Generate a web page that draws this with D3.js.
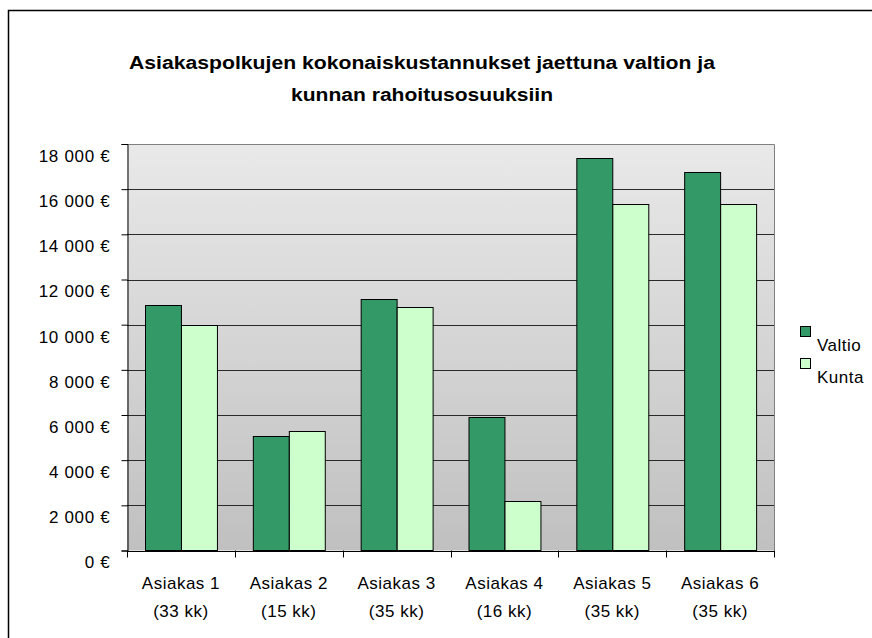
<!DOCTYPE html>
<html>
<head>
<meta charset="utf-8">
<script src="https://cdn.jsdelivr.net/npm/d3@7"></script>
<style>
  body { margin: 0; background: #fff; }
  text { font-family: "Liberation Sans", Arial, sans-serif; fill: #000; }
</style>
</head>
<body>
<div id="chart"></div>
<script>
const categories = ['Asiakas 1', 'Asiakas 2', 'Asiakas 3', 'Asiakas 4', 'Asiakas 5', 'Asiakas 6'];
const subLabels = ['(33 kk)', '(15 kk)', '(35 kk)', '(16 kk)', '(35 kk)', '(35 kk)'];
const valtio = [10850, 5080, 11120, 5930, 17370, 16750];
const kunta = [10000, 5280, 10780, 2190, 15330, 15330];
const seriesNames = ['Valtio', 'Kunta'];
const seriesColors = ['#339966', '#ccffcc'];
const yTicks = [0, 2000, 4000, 6000, 8000, 10000, 12000, 14000, 16000, 18000];
const titleLines = ['Asiakaspolkujen kokonaiskustannukset jaettuna valtion ja', 'kunnan rahoitusosuuksiin'];

const W = 872, H = 638;
const plot = {left: 127, top: 144, right: 774, bottom: 550.5};

const svg = d3.select('#chart').append('svg')
    .attr('width', W)
    .attr('height', H);

// outer chart frame, it runs off the right and bottom edges
svg.append('rect')
    .attr('x', 8.5).attr('y', 10.5)
    .attr('width', W + 20).attr('height', H + 20)
    .attr('fill', '#fff')
    .attr('stroke', '#000')
    .attr('stroke-width', 1.5);

const grad = svg.append('defs').append('linearGradient')
    .attr('id', 'bg').attr('x1', 0).attr('y1', 0).attr('x2', 0).attr('y2', 1);
grad.append('stop').attr('offset', '0%').attr('stop-color', '#e9e9e9');
grad.append('stop').attr('offset', '100%').attr('stop-color', '#c0c0c0');

const x0 = d3.scaleBand()
    .domain(categories)
    .range([plot.left, plot.right]);

const x1 = d3.scaleBand()
    .domain(seriesNames)
    .range([0, x0.bandwidth()])
    .paddingOuter(0.5);

const y = d3.scaleLinear()
    .domain([0, 18000])
    .range([plot.bottom, plot.top]);

svg.append('rect')
    .attr('x', plot.left).attr('y', plot.top)
    .attr('width', plot.right - plot.left)
    .attr('height', plot.bottom - plot.top)
    .attr('fill', 'url(#bg)');

// gridlines
svg.append('g')
    .selectAll('line')
    .data(yTicks.filter(d => d > 0 && d < 18000))
    .enter().append('line')
    .attr('x1', plot.left).attr('x2', plot.right)
    .attr('y1', d => Math.round(y(d)) + 0.5)
    .attr('y2', d => Math.round(y(d)) + 0.5)
    .attr('stroke', '#2a2a2a');

svg.append('path')
    .attr('d', `M${plot.left},${plot.top + 0.5}H${plot.right + 0.5}V${plot.bottom}`)
    .attr('fill', 'none')
    .attr('stroke', '#808080');

// bars
const data = categories.map((c, i) => ({cat: c, values: [valtio[i], kunta[i]]}));
const groups = svg.append('g')
    .selectAll('g')
    .data(data)
    .enter().append('g')
    .attr('transform', d => `translate(${x0(d.cat)},0)`);

groups.selectAll('rect')
    .data(d => d.values.map((v, j) => ({name: seriesNames[j], value: v, color: seriesColors[j]})))
    .enter().append('rect')
    .attr('x', d => Math.round(x1(d.name)) + 0.5)
    .attr('y', d => Math.round(y(d.value)) + 0.5)
    .attr('width', x1.bandwidth())
    .attr('height', d => plot.bottom - Math.round(y(d.value)) - 0.5)
    .attr('fill', d => d.color)
    .attr('stroke', '#000');

// y axis
const yAxis = svg.append('g')
    .attr('transform', `translate(${plot.left + 0.5},0)`)
    .call(d3.axisLeft(y)
        .tickValues(yTicks)
        .tickSize(6)
        .tickPadding(11)
        .tickFormat(d => d3.format(',')(d).replace(/,/g, '\u00a0') + ' \u20ac'));
yAxis.select('.domain').attr('stroke', '#000');
yAxis.selectAll('.tick line').attr('stroke', '#000');
yAxis.selectAll('text')
    .attr('y', 12)
    .attr('font-family', null)
    .style('font-size', '17px')
    .style('letter-spacing', '0.7px');

// x axis
const xAxis = svg.append('g')
    .attr('transform', `translate(0,${plot.bottom + 0.5})`)
    .call(d3.axisBottom(x0).tickSize(0).tickFormat(''));
xAxis.select('.domain').attr('stroke', '#000');

svg.append('g')
    .selectAll('line')
    .data(d3.range(categories.length + 1))
    .enter().append('line')
    .attr('x1', i => Math.round(plot.left + i * x0.step()) + 0.5)
    .attr('x2', i => Math.round(plot.left + i * x0.step()) + 0.5)
    .attr('y1', plot.bottom)
    .attr('y2', plot.bottom + 7)
    .attr('stroke', '#000');

const xl = svg.append('g')
    .selectAll('text')
    .data(categories)
    .enter().append('text')
    .attr('x', d => x0(d) + x0.bandwidth() / 2)
    .attr('y', 589)
    .attr('text-anchor', 'middle')
    .style('font-size', '17px')
    .style('letter-spacing', '0.5px');
xl.append('tspan').text(d => d);
xl.append('tspan')
    .attr('x', d => x0(d) + x0.bandwidth() / 2)
    .attr('dy', 28)
    .text((d, i) => subLabels[i]);

// title, glyphs are stretched a bit wider like in the original
const titleWidths = [586, 262];
svg.append('g')
    .selectAll('text')
    .data(titleLines)
    .enter().append('text')
    .attr('x', 422)
    .attr('y', (d, i) => 69 + i * 32)
    .attr('text-anchor', 'middle')
    .attr('textLength', (d, i) => titleWidths[i])
    .attr('lengthAdjust', 'spacingAndGlyphs')
    .style('font-size', '18px')
    .style('font-weight', 'bold')
    .text(d => d);

// legend
const legend = svg.append('g')
    .selectAll('g')
    .data(seriesNames)
    .enter().append('g')
    .attr('transform', (d, i) => `translate(800,${326 + i * 32})`);
legend.append('rect')
    .attr('x', 0.5).attr('y', 0.5)
    .attr('width', 10).attr('height', 10)
    .attr('fill', (d, i) => seriesColors[i])
    .attr('stroke', '#000');
legend.append('text')
    .attr('x', 17)
    .attr('y', 25)
    .style('font-size', '17px')
    .style('letter-spacing', '0.5px')
    .text(d => d);
</script>
</body>
</html>
